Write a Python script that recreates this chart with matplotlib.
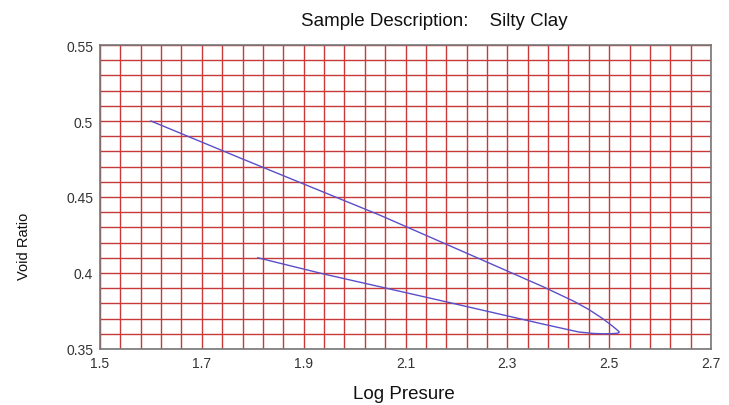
import matplotlib
matplotlib.use("Agg")
import matplotlib.pyplot as plt
import numpy as np

# Consolidation curve: loading branch then unloading branch
log_pressure_loading = [1.60, 1.78, 2.05, 2.20, 2.37, 2.43, 2.46, 2.485, 2.503, 2.514, 2.520]
void_ratio_loading = [0.500, 0.475, 0.438, 0.416, 0.391, 0.3815, 0.3760, 0.3705, 0.3660, 0.3630, 0.3612]
log_pressure_unloading = [2.517, 2.505, 2.49, 2.47, 2.44, 2.37, 2.17, 1.94, 1.81]
void_ratio_unloading = [0.3604, 0.3601, 0.3600, 0.3602, 0.3612, 0.3664, 0.3818, 0.3993, 0.4100]

x_ticks = [1.5, 1.7, 1.9, 2.1, 2.3, 2.5, 2.7]
y_ticks = [0.35, 0.4, 0.45, 0.5, 0.55]
y_tick_labels = ["0.35", "0.4", "0.45", "0.5", "0.55"]

plt.rcParams["font.family"] = ["Liberation Sans", "DejaVu Sans"]

fig = plt.figure(figsize=(7.29, 4.06), dpi=100)
ax = fig.add_axes([100 / 729, 1 - 350 / 406, 611 / 729, 304 / 406])

ax.set_xlim(1.5, 2.7)
ax.set_ylim(0.35, 0.55)

# Red graph-paper grid
for gx in np.arange(1.5, 2.7001, 0.04):
    ax.axvline(gx, color="#c83a3a", lw=1.0, zorder=1)
for gy in np.arange(0.35, 0.5501, 0.01):
    ax.axhline(gy, color="#c83a3a", lw=1.0, zorder=1)

x_all = log_pressure_loading + log_pressure_unloading
y_all = void_ratio_loading + void_ratio_unloading
ax.plot(x_all, y_all, color="#5a4fc8", lw=1.0, zorder=3, solid_joinstyle="round")

ax.set_xticks(x_ticks)
ax.set_xticklabels([f"{t:g}" for t in x_ticks])
ax.set_yticks(y_ticks)
ax.set_yticklabels(y_tick_labels)
ax.tick_params(length=0, labelsize=10, colors="#333333", pad=5)

for s in ax.spines.values():
    s.set_color("#777777")
    s.set_linewidth(1.2)
    s.set_zorder(4)

fig.text(434 / 729, 1 - 22 / 406, "Sample Description:    Silty Clay",
         ha="center", va="center", fontsize=13.5, color="#111111")
fig.text(404 / 729, 1 - 395 / 406, "Log Presure",
         ha="center", va="center", fontsize=13.5, color="#111111")
fig.text(24 / 729, 1 - 246 / 406, "Void Ratio", rotation=90,
         ha="center", va="center", fontsize=10.5, color="#111111")

fig.savefig("out.png", dpi=100)
